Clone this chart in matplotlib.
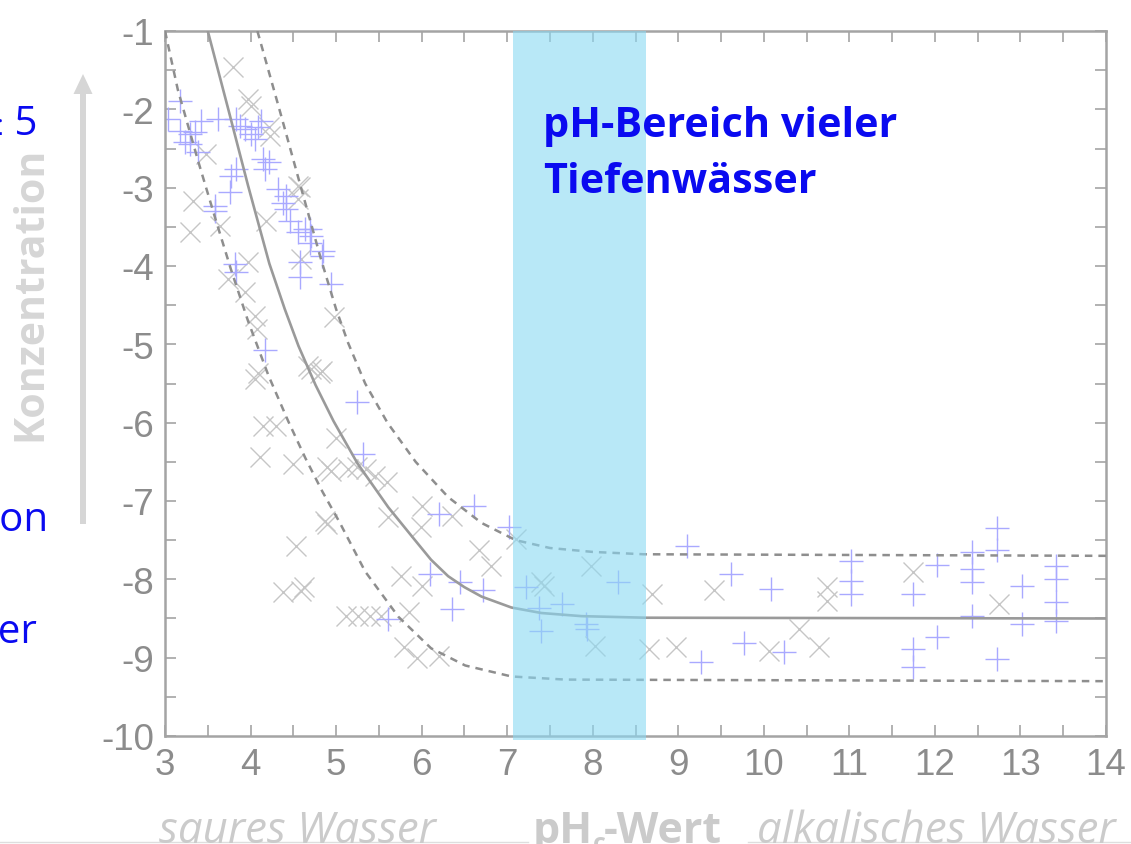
##==============================================================================
## Loeslichkeit (log Konzentration) gegen pH - Nachbau der Folie
##==============================================================================
import numpy as np
import matplotlib
matplotlib.use('Agg')
from matplotlib import pyplot as plt
from matplotlib.lines import Line2D
from matplotlib.patches import FancyArrow

plt.rcParams['axes.unicode_minus'] = False

##==============================================================================
## Daten
##==============================================================================
# Messwerte, graue Kreuze
ph_x = [3.80, 3.97, 4.01, 4.21, 4.23, 3.48, 3.33, 4.56, 4.58, 4.56, 4.18, 4.59,
        3.97, 3.74, 3.94, 4.05, 4.07, 4.97, 4.09, 4.71, 4.83, 3.29, 3.64,
        4.05, 4.15, 4.30, 4.11, 4.50, 4.89, 4.94, 4.89, 4.53, 4.38, 4.59,
        4.67, 4.81, 5.00, 5.14, 5.24, 5.35, 5.46, 5.59, 4.87, 5.61, 6.00,
        6.35, 5.99, 5.76, 6.00, 5.85, 6.67, 6.81, 5.11, 5.26, 5.40, 5.52,
        5.79, 5.94, 6.20, 4.62, 7.10, 7.39, 7.43, 7.98, 8.03, 8.69, 8.66,
        8.97, 9.42, 10.74, 10.74, 10.41, 10.65, 10.06, 11.74, 12.75]
conc_x = [-1.46, -1.87, -1.96, -2.23, -2.34, -2.57, -3.17, -2.98, -2.99, -3.15,
          -3.43, -3.91, -3.95, -4.17, -4.33, -4.64, -4.81, -4.65, -5.36, -5.32,
          -5.34, -3.57, -3.49, -5.44, -6.04, -6.04, -6.44, -6.53, -6.57, -6.62,
          -7.30, -7.58, -8.16, -8.15, -5.28, -5.36, -6.19, -6.59, -6.56, -6.59,
          -6.68, -6.76, -7.26, -7.21, -7.07, -7.19, -7.33, -7.96, -8.09, -8.42,
          -7.62, -7.83, -8.47, -8.47, -8.47, -8.47, -8.87, -9.00, -8.98, -8.10,
          -7.49, -8.04, -8.09, -7.83, -8.85, -8.19, -8.89, -8.87, -8.13, -8.10,
          -8.28, -8.64, -8.87, -8.92, -7.91, -8.32]

# Messwerte, blaue Plus
ph_p = [3.18, 3.04, 3.42, 3.62, 3.18, 3.29, 3.35, 3.23, 3.29, 3.39, 3.83, 3.88,
        3.94, 4.01, 4.05, 4.12, 4.09, 4.15, 4.21, 4.17, 3.83, 3.77, 3.76, 4.32,
        4.41, 4.38, 3.59, 4.56, 4.64, 4.71, 4.83, 4.85, 4.58, 4.58, 4.94, 4.17,
        3.59, 4.41, 4.46, 4.70, 4.70, 3.82, 3.83, 5.24, 5.32, 6.61, 6.20, 7.02,
        6.10, 6.45, 6.72, 6.35, 5.61, 7.22, 7.37, 7.64, 7.39, 7.92, 7.93, 8.30,
        9.10, 9.62, 10.08, 9.27, 9.77, 10.24, 11.02, 11.02, 11.02, 11.74, 12.03,
        12.03, 11.74, 11.74, 12.43, 12.43, 12.43, 12.43, 12.73, 12.73, 12.73,
        13.02, 13.02, 13.42, 13.42, 13.42, 13.42]
conc_p = [-1.89, -2.12, -2.15, -2.12, -2.28, -2.32, -2.29, -2.42, -2.44, -2.55,
          -2.12, -2.21, -2.25, -2.32, -2.38, -2.15, -2.23, -2.63, -2.67, -2.76,
          -2.76, -2.85, -3.06, -3.02, -3.11, -3.19, -3.24, -3.57, -3.53, -3.62,
          -3.87, -3.81, -3.95, -4.14, -4.23, -5.07, -3.30, -3.27, -3.43, -3.53,
          -3.70, -3.98, -4.08, -5.73, -6.40, -7.07, -7.17, -7.33, -7.93, -8.04,
          -8.13, -8.38, -8.51, -8.10, -8.36, -8.31, -8.66, -8.57, -8.64, -8.04,
          -7.58, -7.93, -8.12, -9.06, -8.81, -8.93, -7.77, -8.02, -8.19, -8.19,
          -7.82, -8.73, -8.89, -9.12, -7.65, -7.87, -8.04, -8.47, -7.34, -7.62,
          -9.02, -8.09, -8.57, -7.83, -8.00, -8.29, -8.53]

# Ausgleichskurve (durchgezogen)
ph_fit = [3.50, 3.74, 3.97, 4.22, 4.40, 4.56, 4.76, 4.97, 5.25, 5.61, 5.90,
          6.11, 6.31, 6.50, 6.70, 7.05, 7.40, 7.87, 8.62, 14.0]
conc_fit = [-1.00, -2.00, -2.97, -3.97, -4.55, -5.02, -5.52, -5.98, -6.52,
            -7.08, -7.47, -7.75, -7.96, -8.10, -8.22, -8.36, -8.43, -8.47,
            -8.49, -8.50]

# obere / untere Grenzkurve (gestrichelt)
ph_upper = [4.08, 4.35, 4.59, 4.82, 5.00, 5.14, 5.34, 5.60, 5.93, 6.31, 6.70,
            7.10, 7.50, 8.00, 8.60, 14.0]
conc_upper = [-1.00, -2.05, -3.00, -3.90, -4.55, -4.98, -5.50, -6.00, -6.50,
              -6.95, -7.28, -7.50, -7.60, -7.65, -7.68, -7.70]
ph_lower = [3.00, 3.15, 3.39, 3.59, 3.77, 3.97, 4.21, 4.44, 4.64, 4.84, 5.04,
            5.34, 5.73, 6.11, 6.51, 7.05, 7.68, 14.0]
conc_lower = [-1.00, -1.75, -2.67, -3.40, -4.04, -4.70, -5.40, -5.98, -6.45,
              -6.88, -7.27, -7.90, -8.48, -8.88, -9.10, -9.24, -9.28, -9.30]

# pH-Bereich vieler Tiefenwaesser
band_lo, band_hi = 7.07, 8.62

x_ticks = [3, 4, 5, 6, 7, 8, 9, 10, 11, 12, 13, 14]
y_ticks = [-1, -2, -3, -4, -5, -6, -7, -8, -9, -10]

##==============================================================================
W, H = 1131, 845
fig = plt.figure(figsize=(W / 100.0, H / 100.0), dpi=100)
fig.patch.set_facecolor('white')

def fx(px):
    return px / float(W)

def fy(py):
    return 1 - py / float(H)

ax = fig.add_axes([fx(165), fy(737), fx(1106 - 165), (737 - 32) / float(H)])

frame_col = '#a4a4a4'
tick_col = '#8c8c8c'

ax.plot(ph_x, conc_x, linestyle='none', marker='x', ms=15, mew=1.0,
        color='#c6c6c6', zorder=2)
ax.plot(ph_p, conc_p, linestyle='none', marker='+', ms=17, mew=1.0,
        color='#a9a9ff', zorder=2)

ax.plot(ph_fit, conc_fit, '-', color='#9a9a9a', lw=1.9, zorder=3)
ax.plot(ph_upper, conc_upper, '--', color='#8e8e8e', lw=1.8,
        dashes=(3.0, 2.4), zorder=3)
ax.plot(ph_lower, conc_lower, '--', color='#8e8e8e', lw=1.8,
        dashes=(3.0, 2.4), zorder=3)

# halbtransparentes Band
ax.axvspan(band_lo, band_hi, ymin=-0.005, ymax=1.0, color='#8ad9f3',
           alpha=0.6, lw=0, zorder=4, clip_on=False)

ax.set_xlim(3, 14)
ax.set_ylim(-10, -1)
ax.set_xticks(x_ticks)
ax.set_yticks(y_ticks)
ax.set_xticks(np.arange(3, 14.01, 0.5), minor=True)
ax.set_yticks(np.arange(-10, -0.99, 0.5), minor=True)
ax.tick_params(which='both', direction='in', top=True, right=True,
               color=frame_col, width=1.2)
ax.tick_params(which='major', length=8, labelsize=26.5, labelcolor=tick_col,
               pad=8)
ax.tick_params(which='minor', length=8)
for lab in ax.get_xticklabels() + ax.get_yticklabels():
    lab.set_family('Liberation Sans')
for sp in ax.spines.values():
    sp.set_color(frame_col)
    sp.set_linewidth(1.8)

# Beschriftung im Diagramm
blue = '#0a0af0'
fig.text(fx(543), fy(137), 'pH-Bereich vieler', color=blue, fontsize=29.8,
         fontweight='bold', family='Open Sans', va='baseline', ha='left')
fig.text(fx(543), fy(193), 'Tiefenwässer', color=blue, fontsize=29.8,
         fontweight='bold', family='Open Sans', va='baseline', ha='left')

# abgeschnittener Folientext links
fig.text(fx(38), fy(135), 'pH ≥ 5', color=blue, fontsize=29,
         family=['Open Sans', 'DejaVu Sans'], va='baseline', ha='right')
fig.text(fx(48), fy(531), 'Fällung bei pH ≥ 5 als Hydroxid-Präzipitation',
         color=blue, fontsize=29, family='Open Sans', va='baseline', ha='right')
fig.text(fx(37), fy(643), 'im Wasser', color=blue, fontsize=29,
         family='Open Sans', va='baseline', ha='right')

# Achsenbeschriftung y
light = '#d6d6d6'
fig.text(fx(31), fy(294), 'Konzentration', rotation=90, color=light,
         fontsize=29.5, fontweight='bold', family='Open Sans',
         va='center', ha='center')
fig.patches.append(FancyArrow(fx(83), fy(525), 0, (525 - 95) / float(H),
                              width=fx(6), head_width=fx(19),
                              head_length=20 / float(H),
                              length_includes_head=False,
                              color=light, lw=0, transform=fig.transFigure,
                              figure=fig))

# Achsenbeschriftung x
xl_col = '#cbcbcb'
fig.text(fx(159), fy(843), 'saures Wasser', color=xl_col, fontsize=31.5,
         style='italic', family='Open Sans', va='baseline', ha='left')
fig.text(fx(533), fy(843), 'pH', color=xl_col, fontsize=31,
         fontweight='bold', family='Open Sans', va='baseline', ha='left')
fig.text(fx(593), fy(851), 'c', color=xl_col, fontsize=18,
         fontweight='bold', family='Open Sans', va='baseline', ha='left')
fig.text(fx(604), fy(843), '-Wert', color=xl_col, fontsize=31,
         fontweight='bold', family='Open Sans', va='baseline', ha='left')
fig.text(fx(757), fy(843), 'alkalisches Wasser', color=xl_col, fontsize=31.5,
         style='italic', family='Open Sans', va='baseline', ha='left')
fig.lines.append(Line2D([0, fx(528)], [fy(843), fy(843)], color='#dedede',
                        lw=1.0, transform=fig.transFigure, figure=fig))
fig.lines.append(Line2D([fx(748), 1], [fy(843), fy(843)], color='#dedede',
                        lw=1.0, transform=fig.transFigure, figure=fig))

plt.savefig('out.png', dpi=100)
